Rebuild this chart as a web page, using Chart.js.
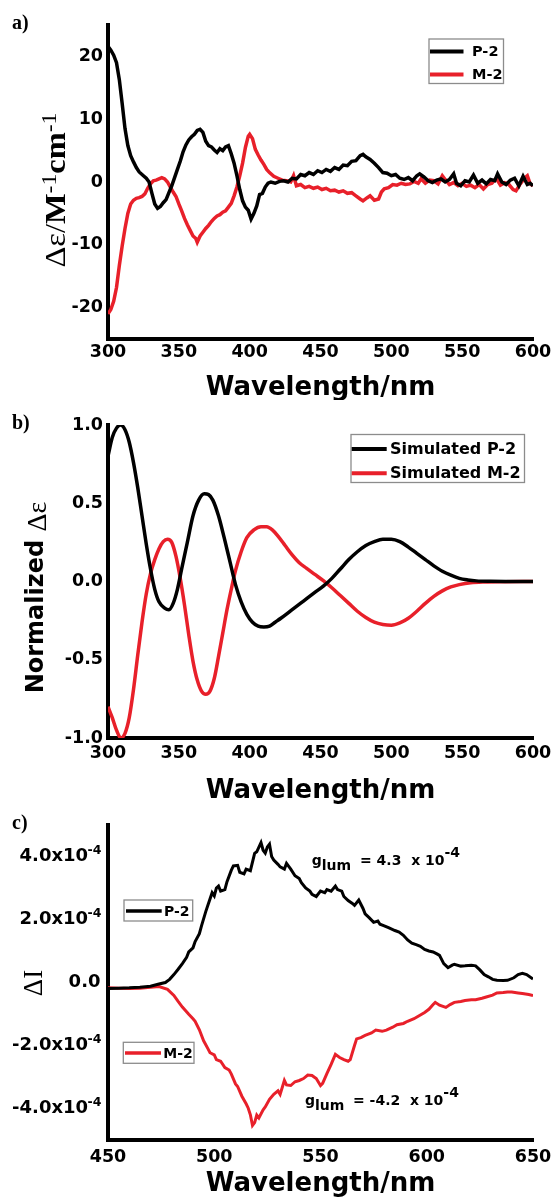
<!DOCTYPE html>
<html>
<head>
<meta charset="utf-8">
<script src="https://cdn.jsdelivr.net/npm/chart.js@4/dist/chart.umd.min.js"></script>
<style>
    body { margin: 0; background: #fff; width: 553px; height: 1200px; position: relative; overflow: hidden; }
    canvas { position: absolute; left: 0; }
    #chart-a { top: 0; }
    #chart-b { top: 400px; }
    #chart-c { top: 800px; }
</style>
</head>
<body>
<canvas id="chart-a" width="553" height="400"></canvas>
<canvas id="chart-b" width="553" height="410"></canvas>
<canvas id="chart-c" width="553" height="400"></canvas>
<script>
// Panel a) measured CD, wavelength (nm) and delta epsilon
const aWaveP = [300, 302, 304, 306, 308, 310, 312, 314, 316, 318, 320, 322, 325, 327, 329, 331, 333, 335, 337, 339,
    341, 343, 345, 347, 349, 351, 353, 355, 357, 359, 361, 363, 365, 367, 369, 371, 373, 375, 377, 379,
    381, 383, 385, 387, 389, 391, 393, 395, 397, 399, 401, 403, 405, 407, 409, 411, 413, 415, 418, 421,
    424, 427, 430, 433, 436, 439, 442, 445, 448, 451, 454, 457, 460, 463, 466, 469, 472, 475, 478, 480,
    482, 485, 488, 491, 494, 497, 500, 503, 506, 509, 512, 515, 518, 520, 523, 526, 529, 532, 535, 538,
    541, 544, 546, 549, 552, 555, 558, 561, 564, 567, 570, 573, 575, 578, 581, 584, 587, 590, 593, 596, 598, 600];
const aP2 = [21.6, 21.0, 20.2, 19.0, 16.3, 12.5, 8.5, 5.8, 4.2, 3.2, 2.3, 1.6, 1.0, 0.6, 0.0, -1.8, -3.5, -4.2, -3.9, -3.3,
    -2.8, -1.7, -0.6, 0.7, 2.0, 3.3, 4.8, 5.9, 6.7, 7.2, 7.6, 8.2, 8.4, 7.9, 6.5, 5.8, 5.6, 5.1, 4.7, 5.3,
    5.0, 5.6, 5.8, 4.5, 3.0, 1.0, -1.2, -3.0, -4.0, -4.5, -5.9, -5.0, -3.8, -2.0, -1.8, -0.8, -0.2, 0.0, -0.2, 0.1,
    0.2, 0.0, 0.6, 0.5, 1.2, 1.0, 1.5, 1.2, 1.8, 1.5, 2.0, 1.7, 2.3, 2.0, 2.7, 2.6, 3.3, 3.4, 4.2, 4.4,
    4.0, 3.6, 3.0, 2.3, 1.5, 1.4, 1.0, 1.2, 0.6, 0.4, 0.7, 0.2, 1.0, 1.3, 0.8, 0.2, -0.1, 0.3, 0.5, 0.0,
    0.4, 1.3, -0.2, -0.6, 0.2, 0.0, 1.1, -0.2, 0.3, -0.3, 0.4, 0.2, 1.3, 0.0, -0.4, 0.3, 0.6, -0.6, 0.9, -0.4, -0.2, -0.6];
const aWaveM = [300, 302, 304, 306, 308, 310, 312, 314, 316, 318, 320, 322, 324, 326, 328, 330, 332, 334, 336, 338,
    340, 342, 344, 346, 348, 350, 352, 354, 356, 358, 360, 362, 363, 365, 367, 369, 371, 373, 375, 377,
    379, 381, 383, 385, 387, 389, 391, 393, 395, 397, 399, 400, 402, 404, 406, 408, 410, 412, 414, 417,
    420, 423, 426, 429, 431, 433, 436, 439, 442, 445, 448, 451, 454, 457, 460, 463, 466, 469, 472, 475,
    478, 480, 483, 485, 488, 491, 493, 495, 498, 501, 504, 507, 510, 513, 516, 519, 521, 524, 527, 530,
    533, 536, 538, 541, 544, 547, 550, 553, 556, 559, 562, 565, 568, 571, 574, 577, 580, 583, 586, 588,
    591, 594, 596, 598, 600];
const aM2 = [-21.0, -20.3, -19.0, -16.8, -13.3, -10.2, -7.4, -5.0, -3.5, -2.9, -2.6, -2.5, -2.3, -1.9, -1.0, -0.3, 0.2, 0.3, 0.5, 0.7,
    0.5, 0.0, -0.8, -1.6, -2.3, -3.5, -4.6, -5.8, -6.8, -7.7, -8.6, -9.0, -9.6, -8.6, -8.0, -7.4, -6.9, -6.3, -5.8, -5.4,
    -5.2, -4.8, -4.6, -4.0, -3.4, -2.2, -0.8, 1.0, 3.0, 5.5, 7.3, 7.6, 6.9, 5.2, 4.3, 3.5, 2.8, 2.0, 1.5, 0.9,
    0.6, 0.3, 0.2, 0.0, 1.0, -0.6, -0.4, -0.9, -0.7, -1.0, -0.8, -1.2, -1.0, -1.4, -1.3, -1.6, -1.4, -1.8, -1.7, -2.2,
    -2.7, -3.0, -2.5, -2.2, -2.9, -2.7, -1.6, -1.1, -0.9, -0.4, -0.5, -0.2, -0.4, -0.3, 0.1, -0.2, 0.5, -0.2, 0.3, 0.2,
    -0.3, 1.0, 0.4, -0.4, -0.1, -0.6, -0.2, -0.7, -0.5, -0.9, -0.4, -1.1, -0.4, -0.2, 0.6, -0.5, -0.1, -0.4, -1.2, -1.4,
    -0.3, 0.6, 1.0, -0.3, -0.6];
const aYTicks = [-20, -10, 0, 10, 20];

// Panel b) simulated, normalized
const bWaveP = [300, 303, 306, 309, 312, 315, 318, 321, 324, 327, 330, 333, 336, 340, 343, 346, 349, 352, 356, 360,
    364, 368, 371, 374, 378, 382, 386, 390, 394, 398, 402, 406, 410, 414, 418, 422, 430, 438, 446, 452,
    458, 464, 470, 476, 482, 488, 494, 500, 506, 512, 518, 524, 530, 536, 542, 548, 554, 560, 570, 585, 600];
const bP2 = [0.80, 0.92, 0.98, 1.0, 0.97, 0.89, 0.76, 0.60, 0.42, 0.24, 0.08, -0.05, -0.13, -0.17, -0.18, -0.14, -0.05, 0.08, 0.25, 0.42,
    0.52, 0.56, 0.555, 0.52, 0.42, 0.28, 0.13, -0.02, -0.13, -0.21, -0.26, -0.285, -0.29, -0.285, -0.26, -0.235, -0.18, -0.125, -0.07, -0.03,
    0.02, 0.08, 0.14, 0.19, 0.23, 0.255, 0.27, 0.27, 0.255, 0.22, 0.18, 0.14, 0.10, 0.065, 0.04, 0.02, 0.01, 0.004, 0.001, 0, 0];
const bWaveM = [300, 303, 306, 309, 312, 315, 318, 321, 324, 327, 330, 333, 336, 339, 342, 345, 348, 351, 354, 357,
    360, 363, 366, 369, 372, 375, 378, 381, 384, 387, 390, 394, 398, 403, 408, 412, 416, 420, 425, 430,
    435, 440, 446, 452, 458, 464, 470, 476, 482, 488, 494, 500, 506, 512, 518, 524, 530, 536, 542, 548,
    556, 566, 580, 600];
const bM2 = [-0.80, -0.87, -0.95, -1.0, -0.97, -0.87, -0.69, -0.47, -0.26, -0.08, 0.05, 0.14, 0.21, 0.255, 0.27, 0.25, 0.16, 0.02, -0.15, -0.34,
    -0.51, -0.63, -0.70, -0.72, -0.70, -0.62, -0.48, -0.33, -0.18, -0.05, 0.07, 0.19, 0.28, 0.33, 0.35, 0.35, 0.33, 0.29, 0.23, 0.17,
    0.12, 0.085, 0.045, 0.005, -0.04, -0.09, -0.14, -0.19, -0.23, -0.26, -0.275, -0.28, -0.265, -0.235, -0.19, -0.14, -0.095, -0.06, -0.035, -0.02,
    -0.008, -0.003, -0.001, 0];
const bYTicks = [-1, -0.5, 0, 0.5, 1];

// Panel c) CPL, delta I in units of 1e-4
const cWaveP = [450, 455, 460, 465, 470, 474, 477, 479, 481, 483, 485, 487, 488, 490, 491, 493, 494, 496, 497, 499,
    500, 501, 502, 503, 505, 506, 508, 509, 511, 512, 514, 515, 517, 519, 520, 522, 523, 524, 525, 526,
    527, 528, 530, 531, 533, 534, 536, 538, 540, 541, 543, 545, 546, 548, 550, 552, 553, 555, 557, 558,
    560, 561, 563, 565, 566, 568, 570, 571, 573, 575, 577, 578, 580, 582, 585, 587, 589, 591, 593, 595,
    597, 599, 601, 603, 605, 606, 608, 610, 612, 613, 616, 618, 621, 623, 625, 627, 629, 631, 633, 636,
    638, 641, 643, 645, 647, 650];
const cP2 = [-0.19, -0.18, -0.17, -0.15, -0.12, -0.05, 0.0, 0.1, 0.25, 0.42, 0.6, 0.8, 0.97, 1.1, 1.3, 1.55, 1.8, 2.25, 2.45, 2.85,
    2.75, 3.0, 3.06, 2.9, 2.95, 3.2, 3.56, 3.7, 3.72, 3.5, 3.45, 3.6, 3.55, 4.1, 4.15, 4.44, 4.2, 4.11, 4.3, 4.39,
    4.0, 3.89, 3.75, 3.67, 3.6, 3.78, 3.6, 3.39, 3.3, 3.17, 3.0, 2.9, 2.8, 2.73, 2.9, 2.85, 2.95, 2.9, 3.06, 2.95,
    2.9, 2.73, 2.6, 2.51, 2.45, 2.62, 2.35, 2.18, 2.05, 1.91, 1.95, 1.85, 1.8, 1.74, 1.65, 1.6, 1.5, 1.35, 1.25, 1.2,
    1.15, 1.05, 1.0, 0.97, 0.9, 0.86, 0.6, 0.47, 0.55, 0.58, 0.52, 0.53, 0.55, 0.53, 0.4, 0.25, 0.18, 0.1, 0.07, 0.06,
    0.07, 0.15, 0.25, 0.29, 0.25, 0.11];
const cWaveM = [450, 455, 460, 465, 470, 474, 478, 481, 483, 485, 488, 490, 491, 493, 495, 497, 498, 500, 501, 503,
    505, 507, 508, 510, 511, 513, 515, 516, 517, 518, 519, 520, 521, 523, 524, 526, 528, 530, 531, 533,
    534, 536, 538, 540, 542, 544, 546, 548, 550, 551, 553, 555, 557, 559, 561, 563, 564, 566, 567, 569,
    571, 574, 576, 579, 581, 584, 586, 589, 591, 594, 596, 599, 601, 603, 604, 606, 609, 611, 613, 616,
    618, 621, 623, 626, 628, 631, 633, 636, 638, 640, 643, 645, 648, 650];
const cM2 = [-0.17, -0.18, -0.19, -0.18, -0.15, -0.13, -0.22, -0.41, -0.6, -0.78, -1.01, -1.15, -1.23, -1.5, -1.85, -2.1, -2.23, -2.3, -2.45, -2.5,
    -2.7, -2.78, -2.9, -3.22, -3.3, -3.61, -3.85, -3.99, -4.2, -4.54, -4.45, -4.21, -4.3, -4.04, -3.95, -3.71, -3.55, -3.44, -3.55, -3.11,
    -3.25, -3.27, -3.15, -3.11, -3.05, -2.94, -2.95, -3.05, -3.27, -3.2, -2.89, -2.6, -2.28, -2.38, -2.45, -2.5, -2.45, -2.0, -1.79, -1.75,
    -1.68, -1.6, -1.51, -1.55, -1.51, -1.42, -1.34, -1.3, -1.23, -1.15, -1.07, -0.95, -0.85, -0.7, -0.63, -0.72, -0.79, -0.7, -0.63, -0.6,
    -0.57, -0.55, -0.55, -0.5, -0.46, -0.4, -0.33, -0.32, -0.3, -0.3, -0.33, -0.35, -0.38, -0.41];
const cYTicks = [-4, -2, 0, 2, 4];

const RED = '#e8202a';
const SANS = 'DejaVu Sans';
const SERIF = 'Liberation Serif';
const AXIS_LEFT = 108;

function toPoints(xs, ys) {
    return xs.map((x, i) => ({ x: x, y: ys[i] }));
}

function lineSet(label, xs, ys, color, width, tension) {
    return {
        label: label,
        data: toPoints(xs, ys),
        borderColor: color,
        backgroundColor: color,
        borderWidth: width,
        pointRadius: 0,
        tension: tension,
        cubicInterpolationMode: tension ? 'monotone' : 'default',
        fill: false
    };
}

// Shared axis setup, the sizes are tuned to the reference layout
function makeOptions(o) {
    return {
        responsive: false,
        animation: false,
        events: [],
        layout: { padding: { top: 25, right: 20, left: 0, bottom: 0 } },
        plugins: { legend: { display: false }, tooltip: { enabled: false } },
        scales: {
            x: {
                type: 'linear',
                min: o.xMin, max: o.xMax,
                afterFit: (s) => { s.height = o.xHeight; s.paddingLeft = 0; s.paddingRight = 0; },
                grid: { display: false, drawTicks: false },
                border: { color: '#000', width: 4 },
                ticks: {
                    stepSize: 50, color: '#000', padding: o.xPad, maxRotation: 0,
                    font: { family: SANS, size: 17.5, weight: 'bold' }
                },
                title: {
                    display: true, text: 'Wavelength/nm', color: '#000',
                    font: { family: SANS, size: 26, weight: 'bold', lineHeight: 1 },
                    padding: { top: 0, bottom: o.titlePad }
                }
            },
            y: {
                min: o.yMin, max: o.yMax,
                afterFit: (s) => { s.width = AXIS_LEFT; },
                afterBuildTicks: (s) => { s.ticks = o.yTicks.map(v => ({ value: v })); },
                grid: { display: false, drawTicks: false },
                border: { color: '#000', width: 4 },
                ticks: {
                    display: o.yTickText !== false,
                    color: '#000', padding: 5,
                    font: { family: SANS, size: 17.5, weight: 'bold' },
                    callback: o.yLabel
                }
            }
        }
    };
}

// text pieces drawn one after another, rotated bottom-to-top
function drawVertical(ctx, cx, cy, parts, fitLength) {
    ctx.save();
    ctx.translate(cx, cy);
    ctx.rotate(-Math.PI / 2);
    let total = 0;
    parts.forEach(p => { ctx.font = p.font; p.w = ctx.measureText(p.text).width; total += p.w; });
    if (fitLength) ctx.scale(fitLength / total, 1);
    ctx.fillStyle = '#000';
    ctx.textBaseline = 'middle';
    ctx.textAlign = 'left';
    let x = -total / 2;
    parts.forEach(p => {
        ctx.font = p.font;
        ctx.fillText(p.text, x, -(p.rise || 0));
        x += p.w;
    });
    ctx.restore();
}

function drawRow(ctx, x, parts) {
    ctx.save();
    ctx.fillStyle = '#000';
    ctx.textBaseline = 'alphabetic';
    parts.forEach(p => {
        ctx.font = p.font;
        ctx.fillText(p.text, p.x !== undefined ? p.x : x, p.y);
        x = (p.x !== undefined ? p.x : x) + ctx.measureText(p.text).width;
    });
    ctx.restore();
}

function drawPanelLabel(ctx, text) {
    ctx.save();
    ctx.fillStyle = '#000';
    ctx.font = 'bold 20px "' + SERIF + '"';
    ctx.textBaseline = 'alphabetic';
    ctx.fillText(text, 12, 29);
    ctx.restore();
}

// legend items: {ds, box:[x,y,w,h] or null, x0, x1, y, tx}
function drawLegend(chart, frame, items, font, lineWidth) {
    const ctx = chart.ctx;
    ctx.save();
    ctx.strokeStyle = '#8c8c8c';
    ctx.lineWidth = 1.3;
    if (frame) ctx.strokeRect(frame[0], frame[1], frame[2], frame[3]);
    items.forEach(it => {
        const ds = chart.data.datasets[it.ds];
        if (it.box) {
            ctx.strokeStyle = '#8c8c8c';
            ctx.lineWidth = 1.3;
            ctx.strokeRect(it.box[0], it.box[1], it.box[2], it.box[3]);
        }
        ctx.strokeStyle = ds.borderColor;
        ctx.lineWidth = lineWidth;
        ctx.beginPath();
        ctx.moveTo(it.x0, it.y);
        ctx.lineTo(it.x1, it.y);
        ctx.stroke();
        ctx.fillStyle = '#000';
        ctx.font = font;
        ctx.textBaseline = 'middle';
        ctx.fillText(ds.label, it.tx, it.y + 1);
    });
    ctx.restore();
}

// Chart a
const chartA = new Chart(document.getElementById('chart-a'), {
    type: 'line',
    data: {
        datasets: [
            lineSet('P-2', aWaveP, aP2, '#000', 3.5, 0),
            lineSet('M-2', aWaveM, aM2, RED, 3.5, 0)
        ]
    },
    options: makeOptions({ xMin: 300, xMax: 600, xHeight: 61, xPad: 3, titlePad: -1,
        yMin: -25, yMax: 25, yTicks: aYTicks }),
    plugins: [{
        id: 'decorA',
        afterDraw(chart) {
            const ctx = chart.ctx;
            drawPanelLabel(ctx, 'a)');
            drawVertical(ctx, 57, 190, [
                { text: '\u0394\u03b5/', font: '30px "' + SERIF + '"' },
                { text: 'M', font: 'bold 30px "' + SERIF + '"' },
                { text: '-1', font: '22px "' + SERIF + '"', rise: 7 },
                { text: 'cm', font: 'bold 30px "' + SERIF + '"' },
                { text: '-1', font: '22px "' + SERIF + '"', rise: 7 }
            ], 155);
            drawLegend(chart, [429, 39, 74.5, 44.5], [
                { ds: 0, x0: 430, x1: 463.5, y: 51.5, tx: 472 },
                { ds: 1, x0: 430, x1: 463.5, y: 74.5, tx: 472 }
            ], 'bold 14.5px "' + SANS + '"', 4);
        }
    }]
});

// Chart b
const chartB = new Chart(document.getElementById('chart-b'), {
    type: 'line',
    data: {
        datasets: [
            lineSet('Simulated P-2', bWaveP, bP2, '#000', 3.5, 0.4),
            lineSet('Simulated M-2', bWaveM, bM2, RED, 3.5, 0.4)
        ]
    },
    options: makeOptions({ xMin: 300, xMax: 600, xHeight: 72, xPad: 5, titlePad: 6,
        yMin: -1, yMax: 1, yTicks: bYTicks, yLabel: (v) => v.toFixed(1) }),
    plugins: [{
        id: 'decorB',
        afterDraw(chart) {
            const ctx = chart.ctx;
            drawPanelLabel(ctx, 'b)');
            drawVertical(ctx, 37, 197.5, [
                { text: 'Normalized ', font: 'bold 24px "' + SANS + '"' },
                { text: '\u0394\u03b5', font: '28px "' + SERIF + '"', rise: -2 }
            ]);
            drawLegend(chart, [351, 34.5, 173.5, 48], [
                { ds: 0, x0: 351.7, x1: 386.7, y: 49, tx: 390 },
                { ds: 1, x0: 351.7, x1: 386.7, y: 73.3, tx: 390 }
            ], 'bold 16px "' + SANS + '"', 4);
        }
    }]
});

// Chart c
const chartC = new Chart(document.getElementById('chart-c'), {
    type: 'line',
    data: {
        datasets: [
            lineSet('P-2', cWaveP, cP2, '#000', 3, 0),
            lineSet('M-2', cWaveM, cM2, RED, 3, 0)
        ]
    },
    options: makeOptions({ xMin: 450, xMax: 650, xHeight: 60, xPad: 7, titlePad: 3,
        yMin: -5, yMax: 5, yTicks: cYTicks, yTickText: false }),
    plugins: [{
        id: 'decorC',
        afterDraw(chart) {
            const ctx = chart.ctx;
            const y = chart.scales.y;
            drawPanelLabel(ctx, 'c)');

            // tick labels with x10^-4 written out
            ctx.save();
            ctx.fillStyle = '#000';
            ctx.textAlign = 'right';
            y.ticks.forEach(t => {
                const py = y.getPixelForValue(t.value);
                const right = 101.5;
                if (t.value === 0) {
                    ctx.font = 'bold 18px "' + SANS + '"';
                    ctx.textBaseline = 'middle';
                    ctx.fillText('0.0', right - 1, py);
                    return;
                }
                ctx.font = 'bold 12.5px "' + SANS + '"';
                ctx.textBaseline = 'alphabetic';
                ctx.fillText('-4', right, py - 2.5);
                const supW = ctx.measureText('-4').width;
                ctx.font = 'bold 18px "' + SANS + '"';
                ctx.textBaseline = 'middle';
                ctx.fillText(t.value.toFixed(1) + 'x10', right - supW + 0.5, py);
            });
            ctx.restore();

            drawVertical(ctx, 35, 183, [
                { text: '\u0394I', font: '27px "' + SERIF + '"' }
            ]);
            drawLegend(chart, null, [
                { ds: 0, box: [124, 100, 68.7, 21], x0: 126, x1: 161.7, y: 111, tx: 164 },
                { ds: 1, box: [123.3, 242.3, 70.7, 21], x0: 125, x1: 161, y: 253, tx: 163.3 }
            ], 'bold 14px "' + SANS + '"', 3.5);

            const f = 'bold 14px "' + SANS + '"';
            drawRow(ctx, 311.7, [
                { text: 'g', font: f, y: 65 },
                { text: 'lum', font: f, y: 70 },
                { text: '= 4.3  x 10', font: f, y: 65, x: 360 },
                { text: '-4', font: f, y: 56.5 }
            ]);
            drawRow(ctx, 305, [
                { text: 'g', font: f, y: 305 },
                { text: 'lum', font: f, y: 310 },
                { text: '= -4.2  x 10', font: f, y: 305, x: 353 },
                { text: '-4', font: f, y: 296.5 }
            ]);
        }
    }]
});
</script>
</body>
</html>
